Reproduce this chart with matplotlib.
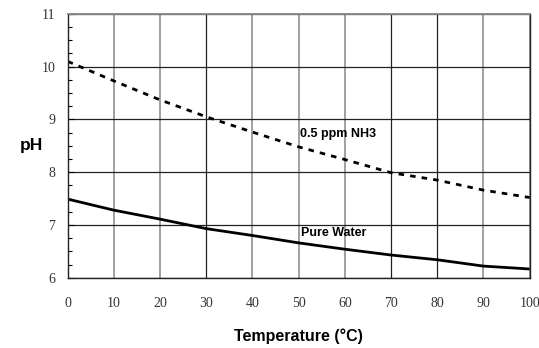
import matplotlib
matplotlib.use("Agg")
import matplotlib.pyplot as plt
from matplotlib.ticker import MultipleLocator

temps = [0, 10, 20, 30, 40, 50, 60, 70, 80, 90, 100]
ph_nh3 = [10.10, 9.73, 9.37, 9.05, 8.76, 8.48, 8.24, 7.99, 7.85, 7.66, 7.52]
ph_water = [7.49, 7.28, 7.11, 6.93, 6.80, 6.66, 6.54, 6.43, 6.34, 6.22, 6.165]
label_nh3 = "0.5 ppm NH3"
label_water = "Pure Water"
xlabel = "Temperature (°C)"
ylabel = "pH"

sans = ["Liberation Sans Narrow", "Liberation Sans", "DejaVu Sans"]
serif = ["Liberation Serif", "DejaVu Serif"]

fig = plt.figure(figsize=(5.39, 3.48), dpi=100)
ax = fig.add_axes([0.1256, 0.202, 0.857, 0.758])

ax.plot(temps, ph_water, color="black", lw=2.0, solid_capstyle="butt")
ax.plot(temps, ph_nh3, color="black", lw=2.0, linestyle=(0, (2.0, 2.2)))

ax.set_xlim(0, 100)
ax.set_ylim(6, 11)
ax.xaxis.set_major_locator(MultipleLocator(10))
ax.yaxis.set_major_locator(MultipleLocator(1))
ax.yaxis.set_minor_locator(MultipleLocator(0.25))

ax.grid(True, which="major", axis="y", color="#222222", lw=0.9)
ax.grid(True, which="major", axis="x", color="#999999", lw=1.3)
dark_x = {30, 70, 80}
for t, gl in zip(ax.get_xticks(), ax.get_xgridlines()):
    if round(t) in dark_x:
        gl.set_color("#222222")
        gl.set_linewidth(0.9)

ax.tick_params(axis="x", which="both", length=0, pad=14)
ax.tick_params(axis="y", which="major", length=4, direction="in", pad=9)
ax.tick_params(axis="y", which="minor", length=3, direction="in", width=0.8)
for lab in ax.get_xticklabels() + ax.get_yticklabels():
    lab.set_fontfamily(serif)
    lab.set_fontsize(10)
    lab.set_color("#333333")

for s in ["left", "bottom", "right"]:
    ax.spines[s].set_color("#222222")
    ax.spines[s].set_linewidth(1.0)
ax.spines["top"].set_color("#888888")
ax.spines["top"].set_linewidth(1.3)

ax.set_xlabel(xlabel, fontfamily=sans, fontweight="bold", fontsize=11.5, labelpad=13)
ax.set_ylabel(ylabel, fontfamily=sans, fontweight="bold", fontsize=12.5, rotation=0, labelpad=7, va="center")

ax.text(50.3, 8.73, label_nh3, fontfamily=sans, fontweight="bold", fontsize=9, va="center", ha="left")
ax.text(50.5, 6.84, label_water, fontfamily=sans, fontweight="bold", fontsize=9, va="center", ha="left")

fig.savefig("out.png", dpi=100)
